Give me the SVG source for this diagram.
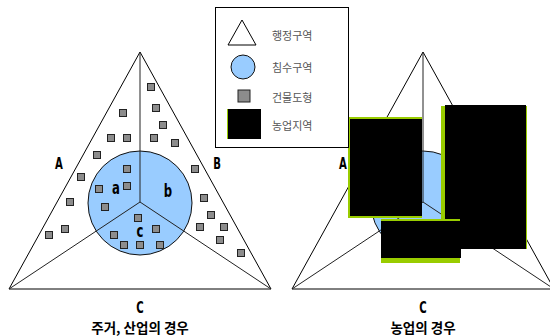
<svg xmlns="http://www.w3.org/2000/svg" xmlns:xlink="http://www.w3.org/1999/xlink" width="550" height="336" viewBox="0 0 550 336">
<style>
.tri{fill:none;stroke:#000;stroke-width:1}
.spoke{stroke:#222;stroke-width:1}
.flood{fill:#99ccff;stroke:#111;stroke-width:1}
.bld{fill:#8c8c8c;stroke:#222;stroke-width:1}
.lbl{font-family:"DejaVu Sans Condensed","DejaVu Sans",sans-serif;font-weight:bold;font-size:15px;fill:#000;text-anchor:middle}
.sm{font-size:18px}
.cap{font-family:"Noto Sans CJK KR","Noto Sans",sans-serif;font-weight:bold;font-size:13.5px;fill:#000;text-anchor:middle}
.leg{font-family:"Noto Sans CJK KR","Noto Sans",sans-serif;font-size:11px;fill:#555}
.farmG{fill:#99cc00}
.farmB{fill:#000}
</style>
<defs>
<rect id="sq" x="-3.5" y="-3.5" width="7" height="7" class="bld"/>
</defs>
<rect width="550" height="336" fill="#fff"/>

<g id="left-diagram">
  <g id="left-admin">
    <polygon class="tri" points="140,52 9,289 271,289"/>
  </g>
  <g id="left-flood">
    <circle class="flood" cx="140" cy="203" r="52"/>
  </g>
  <g id="left-connectors">
    <line class="spoke" x1="140" y1="202" x2="140" y2="52"/>
    <line class="spoke" x1="140" y1="202" x2="9" y2="289"/>
    <line class="spoke" x1="140" y1="202" x2="271" y2="289"/>
  </g>
  <g id="left-buildings">
    <use xlink:href="#sq" x="151" y="87"/>
    <use xlink:href="#sq" x="123" y="113"/>
    <use xlink:href="#sq" x="156" y="108"/>
    <use xlink:href="#sq" x="163" y="125"/>
    <use xlink:href="#sq" x="111" y="138"/>
    <use xlink:href="#sq" x="127" y="138"/>
    <use xlink:href="#sq" x="154" y="138"/>
    <use xlink:href="#sq" x="175" y="143"/>
    <use xlink:href="#sq" x="97" y="155"/>
    <use xlink:href="#sq" x="127" y="169"/>
    <use xlink:href="#sq" x="195" y="169"/>
    <use xlink:href="#sq" x="81" y="177"/>
    <use xlink:href="#sq" x="99" y="189"/>
    <use xlink:href="#sq" x="127" y="186"/>
    <use xlink:href="#sq" x="204" y="198"/>
    <use xlink:href="#sq" x="70" y="202"/>
    <use xlink:href="#sq" x="105" y="207"/>
    <use xlink:href="#sq" x="211" y="215"/>
    <use xlink:href="#sq" x="138" y="218"/>
    <use xlink:href="#sq" x="65" y="229"/>
    <use xlink:href="#sq" x="156" y="229"/>
    <use xlink:href="#sq" x="200" y="227"/>
    <use xlink:href="#sq" x="224" y="227"/>
    <use xlink:href="#sq" x="49" y="235"/>
    <use xlink:href="#sq" x="114" y="235"/>
    <use xlink:href="#sq" x="220" y="240"/>
    <use xlink:href="#sq" x="124" y="245"/>
    <use xlink:href="#sq" x="140" y="245"/>
    <use xlink:href="#sq" x="160" y="245"/>
    <use xlink:href="#sq" x="241" y="253"/>
  </g>
  <g id="left-labels">
    <text class="lbl" transform="translate(59,169) scale(0.75,1)">A</text>
    <text class="lbl" transform="translate(217,169) scale(0.75,1)">B</text>
    <text class="lbl sm" transform="translate(116,194) scale(0.72,1)">a</text>
    <text class="lbl sm" transform="translate(168,197) scale(0.72,1)">b</text>
    <text class="lbl sm" transform="translate(140,237) scale(0.72,1)">c</text>
    <text class="lbl" transform="translate(140,313) scale(0.75,1)">C</text>
    <text class="cap" x="140" y="333">주거, 산업의 경우</text>
  </g>
</g>

<g id="right-diagram">
  <g id="right-admin">
    <polygon class="tri" points="423,52 292,289 554,289"/>
  </g>
  <g id="right-flood">
    <circle class="flood" cx="423" cy="203" r="52"/>
  </g>
  <g id="right-connectors">
    <line class="spoke" x1="423" y1="202" x2="423" y2="52"/>
    <line class="spoke" x1="423" y1="202" x2="292" y2="289"/>
    <line class="spoke" x1="423" y1="202" x2="554" y2="289"/>
  </g>
  <g id="right-labels">
    <text class="lbl" transform="translate(343,169) scale(0.75,1)">A</text>
    <text class="lbl" transform="translate(423,313) scale(0.75,1)">C</text>
    <text class="cap" x="423" y="333">농업의 경우</text>
  </g>
  <g id="farm-1">
    <rect class="farmG" x="348" y="117" width="74" height="101"/>
    <rect class="farmB" x="350" y="119" width="72" height="97"/>
  </g>
  <g id="farm-2">
    <rect class="farmG" x="441" y="106" width="86" height="143"/>
    <rect class="farmB" x="445" y="105" width="81" height="144"/>
  </g>
  <g id="farm-3">
    <rect class="farmG" x="381" y="219" width="79" height="44"/>
    <rect class="farmB" x="381" y="221" width="80" height="37"/>
  </g>
</g>

<g id="legend">
  <rect x="215.5" y="7.5" width="133" height="140" fill="#fff" stroke="#000" stroke-width="1"/>
  <g id="legend-admin">
    <polygon points="242,20 228,45 256,45" fill="#fff" stroke="#000" stroke-width="1"/>
    <text class="leg" x="272" y="40">행정구역</text>
  </g>
  <g id="legend-flood">
    <circle cx="243" cy="67" r="12" class="flood"/>
    <text class="leg" x="272" y="72">침수구역</text>
  </g>
  <g id="legend-building">
    <rect x="238" y="90" width="12" height="12" class="bld"/>
    <text class="leg" x="272" y="102">건물도형</text>
  </g>
  <g id="legend-farm">
    <rect x="227" y="109" width="34" height="30" fill="#000"/>
    <rect x="227" y="109" width="1" height="30" fill="#99cc00"/>
    <text class="leg" x="272" y="130">농업지역</text>
  </g>
</g>
</svg>
